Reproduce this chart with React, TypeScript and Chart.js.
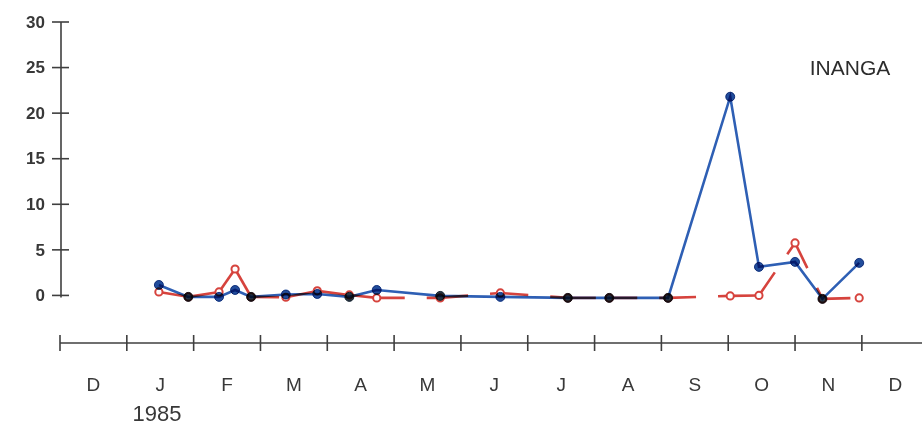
import { useEffect, useRef } from 'react';
import { Chart, registerables } from 'chart.js';

Chart.register(...registerables);

// Sampling dates as fractional months counted from 1 Dec 1984
const sampleMonth = [1.48, 1.92, 2.38, 2.62, 2.86, 3.38, 3.85, 4.33, 4.74, 5.69, 6.59, 7.6, 8.22, 9.1, 10.03, 10.46, 11.0, 11.41, 11.96];
const blueValues = [1.15, -0.16, -0.16, 0.6, -0.16, 0.1, 0.16, -0.16, 0.6, -0.05, -0.16, -0.27, -0.27, -0.27, 21.8, 3.13, 3.68, -0.38, 3.57];
const redValues = [0.38, -0.16, 0.38, 2.9, -0.16, -0.2, 0.5, 0.05, -0.27, -0.27, 0.27, -0.27, -0.27, -0.27, -0.05, 0.0, 5.76, -0.38, -0.27];
const monthLabels = ['D', 'J', 'F', 'M', 'A', 'M', 'J', 'J', 'A', 'S', 'O', 'N', 'D'];
const monthBoundaries = [0, 1, 2, 3, 4, 5, 6, 7, 8, 9, 10, 11, 12];
const yearLabel = '1985';
const yTicks = [0, 5, 10, 15, 20, 25, 30];
const chartTitle = 'INANGA';

const BLUE_LINE = '#2e5fb4';
const BLUE_DOT = '#214d9c';
const DARK = '#263646';
const RED = '#d6433d';
const AXIS = '#3f3f3f';
const TEXT = '#383838';

const sharedPoint = blueValues.map((b, i) => Math.abs(b - redValues[i]) < 0.25);

const inkPlugin = {
  id: 'ink',
  beforeDatasetDraw(chart: any, args: any) {
    if (args.index === 0) {
      chart.ctx.save();
      chart.ctx.globalCompositeOperation = 'multiply';
    }
  },
  afterDatasetDraw(chart: any, args: any) {
    if (args.index === 0) chart.ctx.restore();
  },
};

const paperAxes = {
  id: 'paperAxes',
  beforeDatasetsDraw(chart: any) {
    const { ctx, chartArea } = chart;
    const x = chart.scales.x;
    const y = chart.scales.y;
    ctx.save();
    ctx.strokeStyle = AXIS;
    ctx.lineWidth = 1.6;
    ctx.lineCap = 'butt';

    // Y axis
    const ax = x.getPixelForValue(0) + 1;
    const yTop = y.getPixelForValue(yTicks[yTicks.length - 1]);
    const yZero = y.getPixelForValue(0);
    ctx.beginPath();
    ctx.moveTo(ax, yTop);
    ctx.lineTo(ax, yZero + 2);
    ctx.stroke();
    ctx.fillStyle = TEXT;
    ctx.font = 'bold 17px "Liberation Sans", Arial, sans-serif';
    ctx.textAlign = 'right';
    ctx.textBaseline = 'middle';
    yTicks.forEach((v) => {
      const py = y.getPixelForValue(v);
      ctx.beginPath();
      ctx.moveTo(ax - 9, py);
      ctx.lineTo(ax + 8, py);
      ctx.stroke();
      ctx.fillText(String(v), ax - 16, py + 1);
    });

    // X axis (separate line below)
    const xb = chartArea.bottom;
    ctx.beginPath();
    ctx.moveTo(x.getPixelForValue(0), xb);
    ctx.lineTo(chart.width, xb);
    ctx.stroke();
    monthBoundaries.forEach((m) => {
      const px = x.getPixelForValue(m);
      ctx.beginPath();
      ctx.moveTo(px, xb - 8);
      ctx.lineTo(px, xb + 8);
      ctx.stroke();
    });
    ctx.font = '19px "Liberation Sans", Arial, sans-serif';
    ctx.textAlign = 'center';
    monthLabels.forEach((lab, i) => {
      ctx.fillText(lab, x.getPixelForValue(i + 0.5), xb + 43);
    });
    ctx.font = '22px "Liberation Sans", Arial, sans-serif';
    ctx.fillText(yearLabel, x.getPixelForValue(1.45), xb + 72);

    // Title
    ctx.font = '21px "Liberation Sans", Arial, sans-serif';
    ctx.textAlign = 'left';
    ctx.fillStyle = '#2c2c2c';
    ctx.fillText(chartTitle, x.getPixelForValue(11.22), y.getPixelForValue(24.8));
    ctx.restore();
  },
};

export default function App() {
  const ref = useRef<HTMLCanvasElement | null>(null);

  useEffect(() => {
    if (!ref.current) return;
    const chart = new Chart(ref.current, {
      type: 'line',
      data: {
        datasets: [
          {
            label: 'blue',
            data: sampleMonth.map((m, i) => ({ x: m, y: blueValues[i] })),
            borderColor: BLUE_LINE,
            borderWidth: 2.6,
            pointRadius: 4.5,
            pointBorderWidth: 1,
            pointBackgroundColor: sharedPoint.map((s) => (s ? DARK : BLUE_DOT)),
            pointBorderColor: sharedPoint.map((s) => (s ? DARK : BLUE_DOT)),
            tension: 0,
            fill: false,
          },
          {
            label: 'red',
            data: sampleMonth.map((m, i) => ({ x: m, y: redValues[i] })),
            borderColor: RED,
            borderWidth: 2.6,
            pointRadius: 3.6,
            pointBorderWidth: 2,
            pointBackgroundColor: '#ffffff',
            pointBorderColor: RED,
            tension: 0,
            fill: false,
            segment: {
              borderDash: () => [28, 22],
              borderDashOffset: (c: any) => c.p0DataIndex * 0.001,
            },
          },
        ],
      },
      options: {
        responsive: false,
        animation: false,
        layout: { autoPadding: false, padding: { left: 60, right: 0, top: 22, bottom: 83 } },
        plugins: { legend: { display: false }, tooltip: { enabled: false } },
        scales: {
          x: { type: 'linear', display: false, min: 0, max: 12.9 },
          y: { type: 'linear', display: false, min: -5.22, max: 30 },
        },
      },
      plugins: [paperAxes, inkPlugin],
    } as any);
    return () => chart.destroy();
  }, []);

  return (
    <div style={{ position: 'absolute', left: 0, top: 0, width: 922, height: 426, background: '#ffffff' }}>
      <canvas ref={ref} width={922} height={426} style={{ display: 'block' }} />
    </div>
  );
}
